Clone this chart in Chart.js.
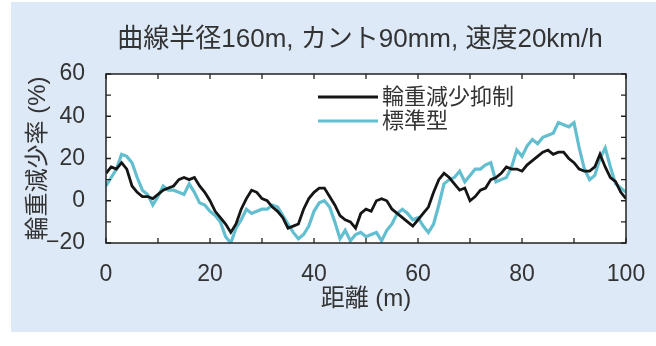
<!DOCTYPE html>
<html>
<head>
<meta charset="utf-8">
<script src="https://cdn.jsdelivr.net/npm/chart.js@4.4.1/dist/chart.umd.min.js"></script>
<style>
  html, body { margin: 0; padding: 0; background: #fff; }
  #wrap { position: relative; width: 656px; height: 346px; }
  #panel { position: absolute; left: 11px; top: 2px; width: 645px; height: 330px; background: #dde9f6; }
  canvas { position: absolute; left: 0; top: 0; }
</style>
</head>
<body>
<div id="wrap">
  <div id="panel"></div>
  <canvas id="chart" width="656" height="346"></canvas>
</div>
<script>
const chartTitle = '曲線半径160m, カント90mm, 速度20km/h';
const xTitle = '距離 (m)';
const yTitle = '輪重減少率 (%)';
const seriesNames = ['輪重減少抑制', '標準型'];

// distance along the curve (m)
const distance = [
  0, 1, 2, 3, 4, 5, 6, 7, 8, 9, 10, 11, 12, 13, 14, 15, 16, 17, 18, 19,
  20, 21, 22, 23, 24, 25, 26, 27, 28, 29, 30, 31, 32, 33, 34, 35, 36, 37, 38, 39,
  40, 41, 42, 43, 44, 45, 46, 47, 48, 49, 50, 51, 52, 53, 54, 55, 56, 57, 58, 59,
  60, 61, 62, 63, 64, 65, 66, 67, 68, 69, 70, 71, 72, 73, 74, 75, 76, 77, 78, 79,
  80, 81, 82, 83, 84, 85, 86, 87, 88, 89, 90, 91, 92, 93, 94, 95, 96, 97, 98, 99, 100
];

// 輪重減少抑制 (black)
const suppressed = [
  13, 16, 15, 18, 15, 7, 4, 2, 2, 1, 3, 5, 6, 7, 10, 11, 10, 11, 7, 4,
  0, -5, -8, -11, -15, -11, -4, 1, 5, 4, 1, 0, -3, -5, -8, -13, -12, -11, -4, 1,
  4, 6, 6, 2, -2, -7, -9, -10, -13, -6, -4, -5, 0, 1, 0, -4, -6, -8, -10, -12,
  -9, -6, -3, 4, 10, 13, 11, 8, 5, 6, 0, 2, 5, 6, 10, 11, 13, 16, 15, 15,
  14, 17, 19, 21, 23, 24, 22, 23, 23, 20, 18, 15, 14, 14, 16, 22, 16, 11, 9, 4, 1
];

// 標準型 (cyan)
const standard = [
  7, 11, 15, 22, 21, 18, 11, 5, 3, -2, 2, 7, 5, 5, 4, 3, 8, 4, -1, -2,
  -5, -7, -10, -17, -20, -13, -9, -4, -6, -5, -4, -4, -2, -3, -7, -11, -15, -18, -16, -12,
  -5, -1, 0, -3, -10, -18, -14, -19, -16, -15, -17, -16, -15, -19, -14, -11, -6, -4, -6, -9,
  -8, -12, -15, -11, -2, 8, 10, 11, 14, 9, 12, 15, 15, 17, 18, 9, 10, 11, 16, 24,
  21, 26, 29, 27, 30, 31, 32, 37, 36, 35, 37, 25, 15, 10, 12, 20, 25, 16, 8, 6, 4
];

const seriesColors = ['#151515', '#63bfd0'];
const textColor = '#333333';
const fontFamily = '"Liberation Sans", "Noto Sans CJK JP", sans-serif';

const toPoints = vals => distance.map((d, i) => ({ x: d, y: vals[i] }));

const framePlugin = {
  id: 'frame',
  beforeDraw(chart) {
    const { ctx, chartArea: a } = chart;
    ctx.save();
    ctx.fillStyle = '#ffffff';
    ctx.fillRect(a.left, a.top, a.right - a.left, a.bottom - a.top);
    ctx.restore();
  },
  afterDatasetsDraw(chart) {
    const { ctx, chartArea: a, scales } = chart;
    ctx.save();
    ctx.strokeStyle = '#222';
    ctx.lineWidth = 1.5;
    ctx.strokeRect(a.left, a.top, a.right - a.left, a.bottom - a.top);
    // inward ticks every 10
    ctx.lineWidth = 1.3;
    ctx.beginPath();
    for (let v = scales.x.min; v <= scales.x.max; v += 10) {
      const px = scales.x.getPixelForValue(v);
      ctx.moveTo(px, a.bottom); ctx.lineTo(px, a.bottom - 5);
      ctx.moveTo(px, a.top); ctx.lineTo(px, a.top + 5);
    }
    for (let v = scales.y.min; v <= scales.y.max; v += 10) {
      const py = scales.y.getPixelForValue(v);
      ctx.moveTo(a.left, py); ctx.lineTo(a.left + 5, py);
      ctx.moveTo(a.right, py); ctx.lineTo(a.right - 5, py);
    }
    ctx.stroke();

    // legend inside the plot
    const rows = [97, 121];
    ctx.font = '22px ' + fontFamily;
    ctx.textBaseline = 'middle';
    ctx.textAlign = 'left';
    chart.data.datasets.forEach((ds, i) => {
      ctx.strokeStyle = ds.borderColor;
      ctx.lineWidth = 3;
      ctx.beginPath();
      ctx.moveTo(318, rows[i]);
      ctx.lineTo(378, rows[i]);
      ctx.stroke();
      ctx.fillStyle = textColor;
      ctx.fillText(ds.label, 382, rows[i] + 1);
    });

    // title
    ctx.font = '26px ' + fontFamily;
    ctx.textAlign = 'center';
    ctx.fillText(chartTitle, 360, 40);
    ctx.restore();
  }
};

const tickFont = { size: 23, family: fontFamily };
const titleFont = { size: 24, family: fontFamily };

new Chart(document.getElementById('chart'), {
  type: 'line',
  data: {
    datasets: [
      {
        label: seriesNames[0],
        data: toPoints(suppressed),
        borderColor: seriesColors[0],
        borderWidth: 2.8,
        pointRadius: 0,
        tension: 0
      },
      {
        label: seriesNames[1],
        data: toPoints(standard),
        borderColor: seriesColors[1],
        borderWidth: 3.2,
        pointRadius: 0,
        tension: 0
      }
    ]
  },
  options: {
    responsive: false,
    animation: false,
    layout: { padding: { top: 74, right: 30, bottom: 0, left: 0 } },
    plugins: {
      legend: { display: false },
      tooltip: { enabled: false }
    },
    scales: {
      x: {
        type: 'linear',
        min: 0,
        max: 100,
        ticks: { stepSize: 20, padding: 10, color: textColor, font: tickFont },
        grid: { display: false },
        border: { display: false },
        title: { display: true, text: xTitle, color: textColor, font: titleFont, padding: { top: 0, bottom: 32 } },
        afterFit(scale) { scale.height = 103; }
      },
      y: {
        min: -20,
        max: 60,
        ticks: {
          stepSize: 20,
          padding: 13,
          color: textColor,
          font: tickFont,
          callback: v => v < 0 ? '\u2212' + Math.abs(v) : String(v)
        },
        grid: { display: false },
        border: { display: false },
        title: { display: true, text: yTitle, color: textColor, font: titleFont, padding: { top: 24, bottom: 0 } },
        afterFit(scale) { scale.width = 106; }
      }
    }
  },
  plugins: [framePlugin]
});
</script>
</body>
</html>
